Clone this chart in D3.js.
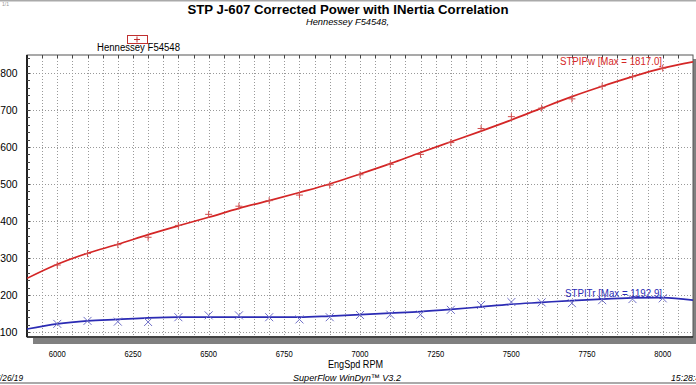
<!DOCTYPE html>
<html><head><meta charset="utf-8">
<script src="https://cdn.jsdelivr.net/npm/d3@7"></script>
<style>
html,body{margin:0;padding:0;background:#fff;overflow:hidden;}
text{font-family:Arial,"Liberation Sans",sans-serif;}
</style></head>
<body><svg id="c" width="696" height="385"></svg>
<script>
// ---- data ----
const fitRpm = [5900,6000,6100,6200,6300,6400,6500,6600,6700,6800,6900,7000,7100,7200,7300,7400,7500,7600,7700,7800,7900,8000,8100];
const powerFit = [1245,1283,1313,1337,1363,1387,1410,1434,1455,1477,1500,1527,1555,1585,1614,1643,1673,1705,1736,1764,1790,1813,1830];
const torqueFit = [1108,1122,1130,1134,1138,1140,1140,1140,1140,1140,1143,1147,1151,1155,1161,1168,1175,1180,1185,1189,1192,1193,1186];
const pointRpm = [6000,6100,6200,6300,6400,6500,6600,6700,6800,6900,7000,7100,7200,7300,7400,7500,7600,7700,7800,7900,8000];
const powerPts = [1281,1312,1336,1356,1388,1418,1440,1455,1470,1497,1525,1553,1580,1612,1650,1682,1705,1730,1764,1790,1813];
const torquePts = [1122,1130,1128,1127,1140,1145,1145,1140,1134,1140,1146,1147,1147,1160,1173,1181,1180,1178,1186,1189,1191];
const xTicks = [6000,6250,6500,6750,7000,7250,7500,7750,8000];
const yTicks = [1100,1200,1300,1400,1500,1600,1700,1800];
const title = "STP J-607 Corrected Power with INertia Correlation";
const subtitle = "Hennessey F54548,";
const legendName = "Hennessey F54548";
const powerLabel = "STPIPw [Max = 1817.0]";
const torqueLabel = "STPITr [Max = 1192.9]";

const svg = d3.select("#c");
const L=27, R=693, T=55, B=337;
const x = d3.scaleLinear().domain([5900,8100]).range([L,R]);
const y = d3.scaleLinear().domain([1086.5,1848.6]).range([B,T]);
const red="#d42626", blue="#2b2bb4";

function txt(xp, yp, s, size, opts={}) {
  const t = svg.append("text").attr("x",xp).attr("y",yp).attr("font-size",size).text(s);
  if (opts.anchor) t.attr("text-anchor",opts.anchor);
  if (opts.weight) t.attr("font-weight",opts.weight);
  if (opts.style) t.attr("font-style",opts.style);
  if (opts.fill) t.attr("fill",opts.fill);
  if (opts.len) t.attr("textLength",opts.len).attr("lengthAdjust","spacingAndGlyphs");
  return t;
}

// top/bottom rules
svg.append("line").attr("x1",0).attr("x2",696).attr("y1",0.5).attr("y2",0.5).attr("stroke","#aaa").attr("stroke-width",2);
svg.append("line").attr("x1",0).attr("x2",696).attr("y1",383).attr("y2",383).attr("stroke","#aaa").attr("stroke-width",2);
txt(2,6,"1/1",5,{fill:"#999"});

// title
txt(348,14,title,13.5,{anchor:"middle",weight:"bold",len:321});
txt(347.5,24.5,subtitle,9.5,{anchor:"middle",style:"italic",len:83});

// legend
svg.append("rect").attr("x",127.5).attr("y",35.5).attr("width",20).attr("height",8).attr("fill","none").attr("stroke","#c03030").attr("stroke-width",1);
svg.append("path").attr("d","M134,39.5h6M137,36.5v6").attr("stroke","#c03030").attr("stroke-width",1);
txt(138.5,51,legendName,10,{anchor:"middle",len:83});

// shadow
svg.append("rect").attr("x",33).attr("y",B+1).attr("width",696-33).attr("height",6).attr("fill","#808080");
svg.append("rect").attr("x",R).attr("y",T+4).attr("width",4).attr("height",B-T).attr("fill","#808080");

// grid
const g = svg.append("g");
g.selectAll(".hg").data(yTicks).join("line")
 .attr("x1",L).attr("x2",R).attr("y1",d=>Math.round(y(d))+0.5).attr("y2",d=>Math.round(y(d))+0.5)
 .attr("stroke","#999").attr("stroke-dasharray","1,2");
g.selectAll(".vg").data(d3.range(5950,8100,50)).join("line")
 .attr("y1",T).attr("y2",B).attr("x1",d=>Math.round(x(d))+0.5).attr("x2",d=>Math.round(x(d))+0.5)
 .attr("stroke","#999").attr("stroke-dasharray","1,2");

// frame
svg.append("rect").attr("x",L).attr("y",T).attr("width",R-L).attr("height",B-T).attr("fill","none").attr("stroke","#555").attr("stroke-width",1);
svg.append("line").attr("x1",L).attr("x2",L).attr("y1",T).attr("y2",B).attr("stroke","#222").attr("stroke-width",2);
svg.append("line").attr("x1",L).attr("x2",R).attr("y1",B).attr("y2",B).attr("stroke","#222").attr("stroke-width",1.5);
svg.selectAll(".ym").data(d3.range(1100,1849,20)).join("line")
 .attr("x1",L).attr("x2",L+3).attr("y1",d=>Math.round(y(d))+0.5).attr("y2",d=>Math.round(y(d))+0.5).attr("stroke","#444");
svg.selectAll(".xm").data(d3.range(5950,8100,50)).join("line")
 .attr("y1",T).attr("y2",T+3).attr("x1",d=>Math.round(x(d))+0.5).attr("x2",d=>Math.round(x(d))+0.5).attr("stroke","#444");

// axis labels (leading digit runs off the left edge, as in the reference)
svg.selectAll(".yl").data(yTicks).join("text")
 .attr("x",17.5).attr("y",d=>y(d)+4).attr("text-anchor","end").attr("font-size",10.5)
 .attr("textLength",23).attr("lengthAdjust","spacingAndGlyphs").text(d=>d);
svg.selectAll(".xl").data(xTicks).join("text")
 .attr("x",d=>x(d)).attr("y",356.5).attr("text-anchor","middle").attr("font-size",9.5)
 .attr("textLength",17).attr("lengthAdjust","spacingAndGlyphs").text(d=>d);
txt(355.5,367.5,"EngSpd RPM",10,{anchor:"middle",len:55});

// footer
txt(23,380.5,"7/26/19",9.5,{anchor:"end",style:"italic",len:27.5});
txt(347,380.5,"SuperFlow WinDyn\u2122 V3.2",9.5,{anchor:"middle",style:"italic",len:108});
txt(671,380.5,"15:28:43",9.5,{style:"italic",len:34});

// curves
const line = d3.line().x(d=>x(d[0])).y(d=>y(d[1])).curve(d3.curveMonotoneX);
svg.append("clipPath").attr("id","pc").append("rect").attr("x",L).attr("y",T).attr("width",R-L).attr("height",B-T);
const plot = svg.append("g").attr("clip-path","url(#pc)");
plot.append("path").datum(fitRpm.map((r,i)=>[r,powerFit[i]])).attr("d",line).attr("fill","none").attr("stroke",red).attr("stroke-width",1.7);
plot.append("path").datum(fitRpm.map((r,i)=>[r,torqueFit[i]])).attr("d",line).attr("fill","none").attr("stroke",blue).attr("stroke-width",1.7);

// markers
plot.selectAll(".pp").data(pointRpm).join("path")
 .attr("d",(d,i)=>{const cx=x(d),cy=y(powerPts[i]);return `M${cx-3.5},${cy}h7M${cx},${cy-3.5}v7`;})
 .attr("stroke","#d05050").attr("stroke-width",1);
plot.selectAll(".tp").data(pointRpm).join("path")
 .attr("d",(d,i)=>{const cx=x(d),cy=y(torquePts[i]);return `M${cx-4},${cy-4}l8,8M${cx-4},${cy+4}l8,-8`;})
 .attr("stroke","#7070c8").attr("stroke-width",1);

// series labels
txt(662,65,powerLabel,10,{anchor:"end",fill:red,len:102});
txt(662,297,torqueLabel,10,{anchor:"end",fill:blue,len:97});
</script></body></html>
